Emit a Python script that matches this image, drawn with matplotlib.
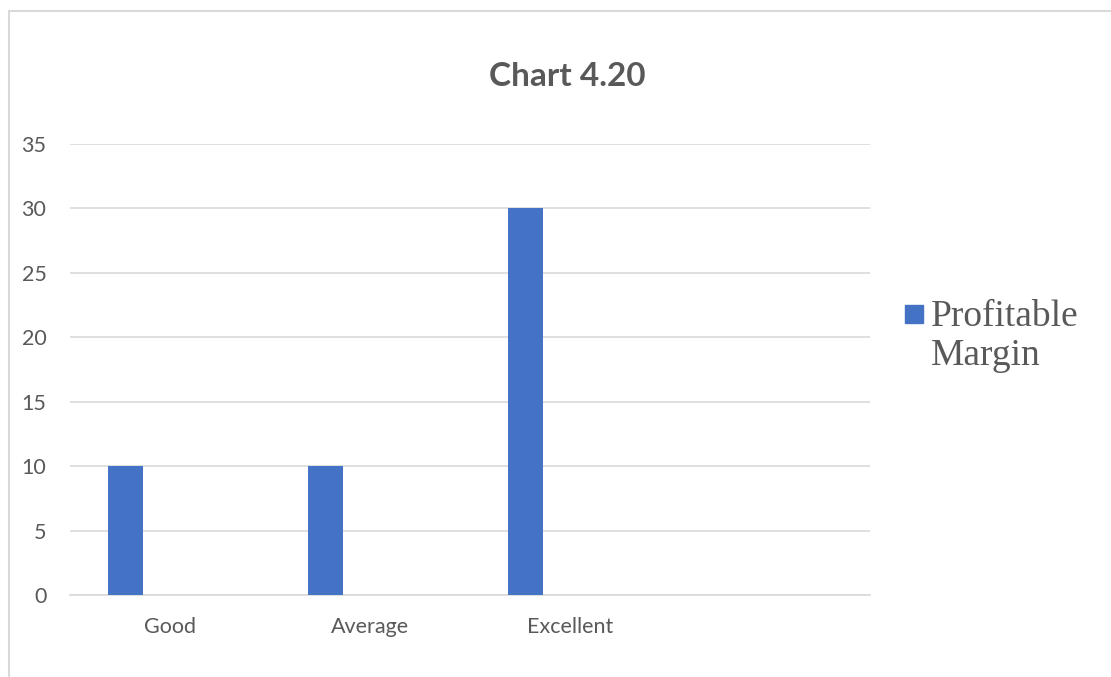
import matplotlib.pyplot as plt
from matplotlib.patches import Rectangle

categories = ["Good", "Average", "Excellent", ""]
profitable_margin = [10, 10, 30, 0]
y_ticks = [0, 5, 10, 15, 20, 25, 30, 35]
series_name = "Profitable\nMargin"

TEXT = "#595959"
GRID = "#D9D9D9"
BAR = "#4472C4"
W, H = 1111, 677

plt.rcParams["font.family"] = ["Lato", "DejaVu Sans"]

fig = plt.figure(figsize=(W / 100, H / 100), dpi=100)
ax = fig.add_axes([70 / W, 82 / H, 800 / W, 451 / H])

# chart frame, cut off on the right and bottom
fig.add_artist(Rectangle((8.5 / W, -0.1), 1.2, 1 - 10.5 / H + 0.1,
                         transform=fig.transFigure, fill=False,
                         edgecolor=GRID, linewidth=1.5))

centers = [i + 0.5 for i in range(len(categories))]
ax.bar([c - 0.2225 for c in centers], profitable_margin, width=0.175,
       color=BAR, zorder=3)

ax.set_xlim(0, 4)
ax.set_ylim(0, 35)
ax.set_yticks(y_ticks)
ax.set_xticks(centers)
ax.set_xticklabels(categories)
ax.yaxis.grid(True, color=GRID, linewidth=1.2, zorder=0)
for side in ["left", "right", "top"]:
    ax.spines[side].set_visible(False)
ax.spines["bottom"].set_color(GRID)
ax.spines["bottom"].set_linewidth(1.2)
ax.tick_params(axis="both", length=0, labelsize=15.5, colors=TEXT)
ax.tick_params(axis="y", pad=17)
ax.tick_params(axis="x", pad=16)

fig.text(567 / W, 1 - 86 / H, "Chart 4.20", ha="center", va="baseline",
         fontsize=24, fontweight="bold", color=TEXT)

# legend: square key and serif label to the right of the plot
fig.add_artist(Rectangle((905 / W, 1 - 323 / H), 18 / W, 18 / H,
                         transform=fig.transFigure, color=BAR))
fig.text(931 / W, 1 - 300 / H, series_name, ha="left", va="top",
         fontsize=27, family="Liberation Serif", color=TEXT, linespacing=1.15)

fig.savefig("out.png", dpi=100)
